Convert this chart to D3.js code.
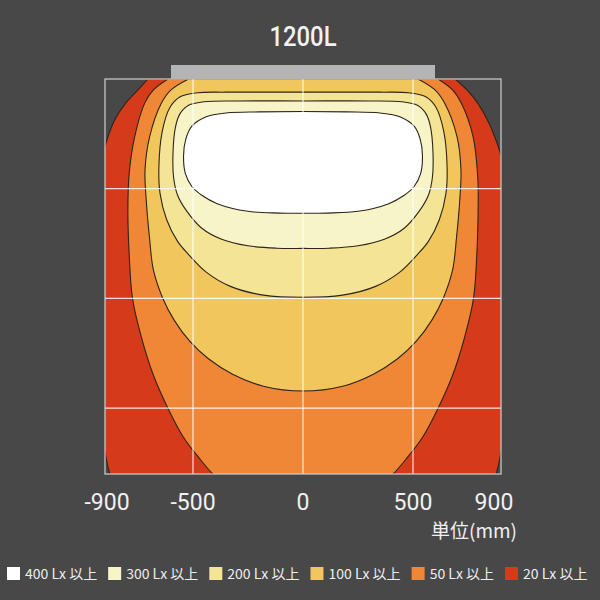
<!DOCTYPE html>
<html>
<head>
<meta charset="utf-8">
<script src="https://cdn.jsdelivr.net/npm/d3@7"></script>
<style>
  body { margin: 0; background: #484848; }
  svg { display: block; }
</style>
</head>
<body>
<div id="chart"></div>
<script>
// luminaire title and width of the fixture bar (mm)
var title = "1200L";
var fixture = [-600, 600];

// axis ticks (mm)
var xTicks = [-900, -500, 0, 500, 900];
var gridX = [-500, 0, 500];
var gridY = [500, 1000, 1500];

// legend
var levels = ["400 Lx 以上", "300 Lx 以上", "200 Lx 以上", "100 Lx 以上", "50 Lx 以上", "20 Lx 以上"];
var colors = ["#ffffff", "#f7f4c8", "#f3e496", "#f1c65d", "#f08737", "#d53a1a"];

// isolux contours, [x mm, depth mm]
// closed ones (inside the plot)
var lux400 = [[0,148],[200,150],[350,155],[440,172],[505,215],[533,275],[543,350],[535,430],[505,490],[460,530],[390,568],[250,603],[110,611],[0,612],
  [-110,611],[-250,603],[-390,568],[-460,530],[-505,490],[-535,430],[-543,350],[-533,275],[-505,215],[-440,172],[-350,155],[-200,150]];
var lux300 = [[0,100],[300,100],[450,104],[520,120],[560,160],[580,220],[591,340],[588,450],[570,530],[530,600],[460,680],[370,730],[250,760],[120,771],[0,772],
  [-120,771],[-250,760],[-370,730],[-460,680],[-530,600],[-570,530],[-588,450],[-591,340],[-580,220],[-560,160],[-520,120],[-450,104],[-300,100]];
var lux200 = [[0,60],[350,60],[480,63],[560,82],[605,130],[640,240],[655,400],[650,520],[620,640],[570,740],[520,800],[440,880],[330,945],[180,985],[0,995],
  [-180,985],[-330,945],[-440,880],[-520,800],[-570,740],[-620,640],[-650,520],[-655,400],[-640,240],[-605,130],[-560,82],[-480,63],[-350,60]];
// open ones, starting and ending on the ceiling line
var lux100 = [[-520,0],[-600,50],[-644,111],[-697,263],[-718,415],[-712,560],[-698,720],[-680,870],[-637,1000],[-585,1100],[-515,1195],[-430,1275],[-320,1345],[-180,1400],[0,1422],
  [180,1400],[320,1345],[430,1275],[515,1195],[585,1100],[637,1000],[680,870],[698,720],[712,560],[718,415],[700,263],[644,111],[600,50],[523,0]];
var lux50 = [[-614,0],[-680,50],[-720,111],[-765,263],[-790,430],[-796,600],[-790,800],[-775,1000],[-735,1175],[-680,1350],[-614,1500],[-545,1630],[-470,1730],[-410,1800],[-300,1900],[0,1980],
  [300,1900],[410,1800],[470,1730],[545,1630],[614,1500],[680,1350],[735,1175],[775,1000],[790,800],[796,600],[795,460],[773,263],[720,111],[680,50],[614,0]];
var lux20 = [[-705,0],[-750,50],[-807,111],[-856,187],[-894,286],[-930,420],[-958,650],[-965,1000],[-950,1300],[-925,1550],[-900,1700],[-878,1800],[-830,1920],[0,2100],
  [830,1920],[878,1800],[900,1700],[925,1550],[950,1300],[965,1000],[962,700],[950,560],[915,400],[885,300],[845,200],[795,111],[745,50],[692,0]];

var contours = [
    { pts: lux20, closed: false, color: colors[5] },
    { pts: lux50, closed: false, color: colors[4] },
    { pts: lux100, closed: false, color: colors[3] },
    { pts: lux200, closed: true, color: colors[2] },
    { pts: lux300, closed: true, color: colors[1] },
    { pts: lux400, closed: true, color: colors[0] }
];

var W = 600, H = 600;
var plot = { left: 105, right: 501, top: 79, bottom: 474 };

var svg = d3.select("#chart").append("svg").attr("width", W).attr("height", H);
svg.append("rect").attr("width", W).attr("height", H).attr("fill", "#484848");

var x = d3.scaleLinear().domain([-900, 900]).range([plot.left, plot.right]);
var y = d3.scaleLinear().domain([0, 1800]).range([plot.top, plot.bottom]);

svg.append("clipPath").attr("id", "clip")
    .append("rect")
    .attr("x", plot.left).attr("y", plot.top)
    .attr("width", plot.right - plot.left).attr("height", plot.bottom - plot.top);

var g = svg.append("g").attr("clip-path", "url(#clip)");

var openLine = d3.line().x(d => x(d[0])).y(d => y(d[1])).curve(d3.curveCatmullRom.alpha(0.5));
var closedLine = d3.line().x(d => x(d[0])).y(d => y(d[1])).curve(d3.curveCatmullRomClosed.alpha(0.5));

contours.forEach(c => {
    var d = c.closed ? closedLine(c.pts) : openLine(c.pts) + "Z";
    g.append("path")
        .attr("d", d)
        .attr("fill", c.color)
        .attr("stroke", "#2e2418")
        .attr("stroke-width", 1.1);
});

// grid
g.selectAll(".gx").data(gridX).enter().append("line")
    .attr("x1", d => x(d)).attr("x2", d => x(d))
    .attr("y1", plot.top).attr("y2", plot.bottom)
    .attr("stroke", "#ffffff").attr("stroke-opacity", 0.85).attr("stroke-width", 1.2);
g.selectAll(".gy").data(gridY).enter().append("line")
    .attr("x1", plot.left).attr("x2", plot.right)
    .attr("y1", d => y(d)).attr("y2", d => y(d))
    .attr("stroke", "#ffffff").attr("stroke-opacity", 0.85).attr("stroke-width", 1.2);

// frame
svg.append("rect")
    .attr("x", plot.left).attr("y", plot.top)
    .attr("width", plot.right - plot.left).attr("height", plot.bottom - plot.top)
    .attr("fill", "none").attr("stroke", "#d0d0d0").attr("stroke-width", 1.2);

// fixture bar
svg.append("rect")
    .attr("x", x(fixture[0])).attr("y", plot.top - 14)
    .attr("width", x(fixture[1]) - x(fixture[0])).attr("height", 14)
    .attr("fill", "#b4b4b4");

// title
svg.append("text")
    .attr("x", 303).attr("y", 46)
    .attr("text-anchor", "middle")
    .attr("font-family", "Roboto, 'DejaVu Sans', sans-serif")
    .attr("font-size", 28)
    .attr("font-weight", 500)
    .attr("textLength", 67)
    .attr("lengthAdjust", "spacingAndGlyphs")
    .attr("fill", "#f2f2f2")
    .text(title);

// tick labels
svg.selectAll(".tick").data(xTicks).enter().append("text")
    .attr("x", d => Math.min(Math.max(x(d), 107), 494))
    .attr("y", 510)
    .attr("text-anchor", "middle")
    .attr("font-family", "Roboto, sans-serif")
    .attr("font-size", 23)
    .attr("fill", "#f0f0f0")
    .text(d => d < 0 ? "-" + Math.abs(d) : d);

svg.append("text")
    .attr("x", 517).attr("y", 538)
    .attr("text-anchor", "end")
    .attr("font-family", "'Noto Sans CJK JP', Roboto, sans-serif")
    .attr("font-size", 19)
    .attr("fill", "#f0f0f0")
    .text("単位(mm)");

// legend
var lx = 7;
levels.forEach((lab, i) => {
    svg.append("rect")
        .attr("x", lx).attr("y", 567)
        .attr("width", 13).attr("height", 13)
        .attr("fill", colors[i]);
    var t = svg.append("text")
        .attr("x", lx + 18).attr("y", 579)
        .attr("font-family", "'Noto Sans CJK JP', Roboto, sans-serif")
        .attr("font-size", 14)
        .attr("fill", "#eeeeee")
        .text(lab);
    lx += 18 + t.node().getComputedTextLength() + 11;
});
</script>
</body>
</html>
